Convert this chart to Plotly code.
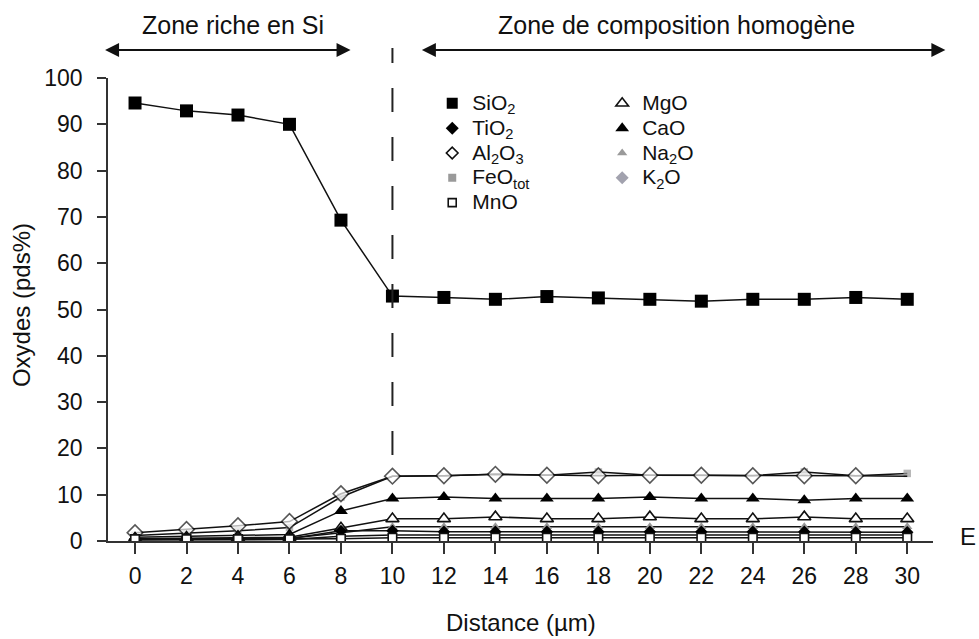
import plotly.graph_objects as go

# Oxide profiles (wt%) along the traverse
distance = [0, 2, 4, 6, 8, 10, 12, 14, 16, 18, 20, 22, 24, 26, 28, 30]
x_ticks = [0, 2, 4, 6, 8, 10, 12, 14, 16, 18, 20, 22, 24, 26, 28, 30]
y_ticks = [0, 10, 20, 30, 40, 50, 60, 70, 80, 90, 100]

sio2 = [94.6, 92.9, 92.0, 90.0, 69.3, 52.9, 52.6, 52.2, 52.8, 52.5, 52.2, 51.8, 52.2, 52.2, 52.6, 52.2]
tio2 = [0.4, 0.4, 0.4, 0.5, 2.2, 2.2, 2.0, 2.0, 2.0, 2.0, 2.0, 2.0, 2.0, 2.0, 1.9, 1.9]
al2o3 = [1.8, 2.5, 3.3, 4.2, 10.2, 14.0, 14.1, 14.4, 14.2, 14.1, 14.2, 14.2, 14.1, 14.1, 14.1, 14.0]
feo_tot = [1.2, 1.7, 2.2, 2.9, 9.5, 14.0, 14.1, 14.4, 14.2, 14.9, 14.2, 14.2, 14.1, 14.9, 14.1, 14.6]
mno = [0.4, 0.4, 0.4, 0.4, 0.5, 0.7, 0.7, 0.7, 0.7, 0.7, 0.7, 0.7, 0.7, 0.7, 0.7, 0.7]
mgo = [0.5, 0.6, 0.7, 0.8, 2.8, 4.8, 4.8, 5.2, 4.8, 4.8, 5.2, 4.8, 4.8, 5.2, 4.8, 4.8]
cao = [0.8, 1.0, 1.2, 1.4, 6.5, 9.2, 9.5, 9.2, 9.2, 9.2, 9.5, 9.2, 9.2, 8.8, 9.2, 9.2]
na2o = [0.3, 0.4, 0.5, 0.6, 1.8, 3.1, 3.1, 3.1, 3.1, 3.1, 3.1, 3.1, 3.1, 3.1, 3.1, 3.1]
k2o = [0.2, 0.2, 0.3, 0.3, 1.0, 1.3, 1.3, 1.3, 1.3, 1.3, 1.3, 1.3, 1.3, 1.3, 1.3, 1.3]

LINE = dict(color="#111111", width=1.5)
GREY = "#9a9a9a"
GREY_BLUE = "#a2a2ae"
FONT = "Liberation Sans, Arial, sans-serif"

fig = go.Figure()


def profile(y, symbol, size, fill, outline="#111111", owidth=1.5):
    fig.add_trace(go.Scatter(
        x=distance, y=y, mode="lines+markers", showlegend=False,
        line=LINE, hoverinfo="skip",
        marker=dict(symbol=symbol, size=size, color=fill,
                    line=dict(color=outline, width=owidth)),
    ))


# FeOtot squares sit under the Al2O3 diamonds; only those standing
# clear of a diamond get drawn
feo_sizes = [7.5 if abs(f - a) > 0.5 or i == len(distance) - 1 else 0
             for i, (f, a) in enumerate(zip(feo_tot, al2o3))]
# the last Al2O3 point is hidden by the FeOtot square
al_sizes = [12] * (len(distance) - 1) + [0]

# back-to-front drawing order
profile(na2o, "triangle-up", 9, GREY, GREY, 0)
profile(k2o, "diamond", 8, GREY_BLUE, GREY_BLUE, 0)
profile(feo_tot, "square", feo_sizes, GREY, GREY, 0)
profile(sio2, "square", 13, "#000000", "#000000", 0)
profile(al2o3, "diamond", al_sizes, "#ffffff", "#111111", 1.6)
profile(cao, "triangle-up", 12, "#000000", "#000000", 0)
profile(mgo, "triangle-up", 11.5, "#ffffff", "#111111", 1.6)
profile(tio2, "diamond", 9.5, "#000000", "#000000", 0)
profile(mno, "square", 8.5, "#ffffff", "#111111", 1.6)


def key(name, symbol, size, fill, outline, owidth, legend):
    fig.add_trace(go.Scatter(
        x=[None], y=[None], mode="markers", legend=legend,
        name="<span style='font-size:21px'>" + name + "</span>",
        marker=dict(symbol=symbol, size=size, color=fill,
                    line=dict(color=outline, width=owidth)),
    ))


key("SiO<sub>2</sub>", "square", 11, "#000000", "#000000", 0, "legend")
key("TiO<sub>2</sub>", "diamond", 10, "#000000", "#000000", 0, "legend")
key("Al<sub>2</sub>O<sub>3</sub>", "diamond", 9, "#ffffff", "#111111", 1.6, "legend")
key("FeO<sub>tot</sub>", "square", 8, GREY, GREY, 0, "legend")
key("MnO", "square", 8, "#ffffff", "#111111", 1.6, "legend")
key("MgO", "triangle-up", 11, "#ffffff", "#111111", 1.6, "legend2")
key("CaO", "triangle-up", 12, "#000000", "#000000", 0, "legend2")
key("Na<sub>2</sub>O", "triangle-up", 9, GREY, GREY, 0, "legend2")
key("K<sub>2</sub>O", "diamond", 10, GREY_BLUE, GREY_BLUE, 0, "legend2")

legend_common = dict(
    font=dict(family=FONT, size=16.8, color="#111111"),
    bgcolor="rgba(0,0,0,0)", borderwidth=0, itemsizing="trace",
    tracegroupgap=0, xanchor="left", yanchor="top",
)

axis_common = dict(
    showline=True, linecolor="#333333", linewidth=1.5,
    ticks="outside", tickcolor="#333333", tickwidth=1.5,
    showgrid=False, zeroline=False,
    tickfont=dict(family=FONT, size=23, color="#111111"),
)

fig.update_layout(
    width=979, height=639,
    margin=dict(l=108, r=46, t=78, b=98),
    paper_bgcolor="#ffffff", plot_bgcolor="#ffffff",
    font=dict(family=FONT, size=23, color="#111111"),
    xaxis=dict(range=[-1.05, 31], tickvals=x_ticks, ticklen=11,
               ticklabelstandoff=3, **axis_common),
    yaxis=dict(range=[0, 100], tickvals=y_ticks, ticklen=9,
               ticklabelstandoff=10, **axis_common),
    legend=dict(x=0.393, y=0.983, **legend_common),
    legend2=dict(x=0.599, y=0.983, **legend_common),
    shapes=[dict(type="line", xref="x", yref="paper", x0=10, x1=10,
                 y0=0.186, y1=1.065,
                 line=dict(color="#222222", width=2, dash="24px,25px"))],
)

# double-headed arrows marking the two zones
for x_end, length in [(0.294, 247), (1.015, 525)]:
    fig.add_annotation(
        xref="paper", yref="paper", x=x_end, y=1.0605, ax=-length, ay=0,
        text="", showarrow=True, arrowside="end+start",
        arrowhead=2, startarrowhead=2, arrowsize=1.4, startarrowsize=1.4,
        arrowwidth=2, arrowcolor="#111111", standoff=0, startstandoff=0,
    )

labels = [
    ("Zone riche en Si", 0.152, 1.1145, 0, 25),
    ("Zone de composition homogène", 0.689, 1.1145, 0, 25),
    ("Distance (µm)", 0.5, -0.175, 0, 24),
    ("Oxydes (pds%)", -0.104, 0.51, -90, 24),
    ("E", 1.042, 0.01, 0, 24),
]
for text, x, y, angle, size in labels:
    fig.add_annotation(xref="paper", yref="paper", x=x, y=y, text=text,
                       showarrow=False, textangle=angle,
                       xanchor="center", yanchor="middle",
                       font=dict(family=FONT, size=size, color="#111111"))

fig.write_html("out.html")
